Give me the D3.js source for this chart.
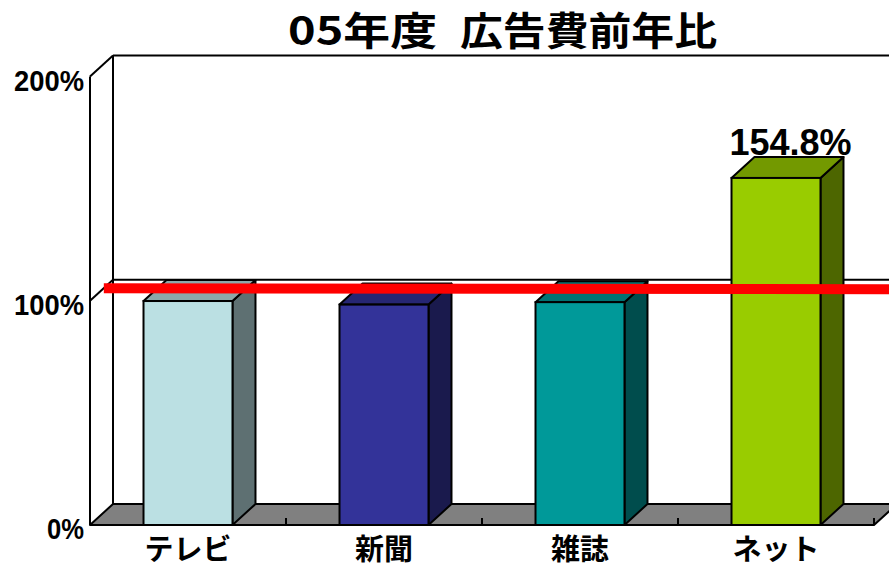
<!DOCTYPE html>
<html>
<head>
<meta charset="utf-8">
<script src="https://cdn.jsdelivr.net/npm/d3@7"></script>
<style>
  body { margin: 0; background: #fff; }
  svg { display: block; }
</style>
</head>
<body>
<div id="chart"></div>
<script>
var categories = ["テレビ", "新聞", "雑誌", "ネット"];
var values = [99.9, 98.3, 99.4, 154.8];
var frontColors = ["#bbe0e3", "#333399", "#009999", "#99cc00"];
var yTicks = [0, 100, 200];
var refValue = 100;
var labelValue = "154.8%";
var titleParts = ["05年度", "広告費前年比"];

var width = 889, height = 567;
var depthX = 23, depthY = -21;

var svg = d3
  .select("#chart")
  .append("svg")
  .attr("width", width)
  .attr("height", height);

var x = d3
  .scaleBand()
  .domain(categories)
  .range([90, 874])
  .paddingInner(0.546)
  .paddingOuter(0.273);

var y = d3.scaleLinear([0, 200], [525, 76.6]);

function shade(c, k) {
  var col = d3.rgb(c);
  return d3.rgb(col.r * k, col.g * k, col.b * k).formatHex();
}

// back wall lines
svg
  .append("line")
  .attr("x1", 90 + depthX)
  .attr("y1", y(200) + depthY)
  .attr("x2", 90 + depthX)
  .attr("y2", y(0) + depthY)
  .style("stroke", "#000")
  .style("stroke-width", 2);

svg
  .append("g")
  .selectAll("line")
  .data(yTicks.filter((d) => d > 0))
  .join("line")
  .attr("x1", 90 + depthX)
  .attr("x2", 874 + depthX + 10)
  .attr("y1", (d) => y(d) + depthY)
  .attr("y2", (d) => y(d) + depthY)
  .style("stroke", "#000")
  .style("stroke-width", 2);

// left wall
svg
  .append("line")
  .attr("x1", 90)
  .attr("y1", y(200))
  .attr("x2", 90)
  .attr("y2", y(0))
  .style("stroke", "#000")
  .style("stroke-width", 2);

svg
  .append("g")
  .selectAll("line")
  .data(yTicks.filter((d) => d > 0))
  .join("line")
  .attr("x1", 90)
  .attr("x2", 90 + depthX)
  .attr("y1", (d) => y(d))
  .attr("y2", (d) => y(d) + depthY)
  .style("stroke", "#000")
  .style("stroke-width", 2);

// floor
var fx0 = x.range()[0], fx1 = x.range()[1];
svg
  .append("polygon")
  .attr(
    "points",
    [
      [fx0, y(0)],
      [fx0 + depthX, y(0) + depthY],
      [fx1 + depthX, y(0) + depthY],
      [fx1, y(0)],
    ].join(" ")
  )
  .style("fill", "#808080")
  .style("stroke", "#000")
  .style("stroke-width", 2)
  .style("stroke-linejoin", "round");

// category boundary ticks on floor
svg
  .append("g")
  .selectAll("line")
  .data(categories)
  .join("line")
  .attr("x1", (d) => x(d) + x.bandwidth() / 2 + x.step() / 2)
  .attr("x2", (d) => x(d) + x.bandwidth() / 2 + x.step() / 2)
  .attr("y1", y(0))
  .attr("y2", y(0) - 7)
  .style("stroke", "#000")
  .style("stroke-width", 2);

// bars
var bars = svg
  .append("g")
  .selectAll("g")
  .data(categories)
  .join("g");

bars
  .append("polygon")
  .attr("points", function (d, i) {
    var x0 = x(d) + x.bandwidth(), yv = y(values[i]), y0 = y(0);
    return [
      [x0, yv],
      [x0 + depthX, yv + depthY],
      [x0 + depthX, y0 + depthY],
      [x0, y0],
    ].join(" ");
  })
  .style("fill", (d, i) => shade(frontColors[i], 0.5))
  .style("stroke", "#000")
  .style("stroke-width", 2)
  .style("stroke-linejoin", "round");

bars
  .append("polygon")
  .attr("points", function (d, i) {
    var x0 = x(d), x1 = x(d) + x.bandwidth(), yv = y(values[i]);
    return [
      [x0, yv],
      [x0 + depthX, yv + depthY],
      [x1 + depthX, yv + depthY],
      [x1, yv],
    ].join(" ");
  })
  .style("fill", (d, i) => shade(frontColors[i], 0.75))
  .style("stroke", "#000")
  .style("stroke-width", 2)
  .style("stroke-linejoin", "round");

bars
  .append("rect")
  .attr("x", (d) => x(d))
  .attr("y", (d, i) => y(values[i]))
  .attr("width", x.bandwidth())
  .attr("height", (d, i) => y(0) - y(values[i]))
  .style("fill", (d, i) => frontColors[i])
  .style("stroke", "#000")
  .style("stroke-width", 2);

// red 100% line, drawn part way into the depth
var refDepth = 0.6;
svg
  .append("line")
  .attr("x1", 90 + depthX * refDepth)
  .attr("x2", width)
  .attr("y1", y(refValue) + depthY * refDepth)
  .attr("y2", y(refValue) + depthY * refDepth + 1)
  .style("stroke", "#ff0000")
  .style("stroke-width", 10);

// value label on the net bar
var last = categories.length - 1;
svg
  .append("text")
  .attr("x", x(categories[last]) + x.bandwidth() / 2 + depthX / 2 + 3)
  .attr("y", y(values[last]) + depthY - 2)
  .attr("text-anchor", "middle")
  .style("font-family", "'Liberation Sans', Arial, sans-serif")
  .style("font-weight", "bold")
  .style("font-size", "36px")
  .text(labelValue);

// y labels
var yLabelWidths = { 0: 37, 100: 70, 200: 70 };
svg
  .append("g")
  .selectAll("text")
  .data(yTicks)
  .join("text")
  .attr("x", 84)
  .attr("y", (d) => y(d) + 14)
  .attr("text-anchor", "end")
  .attr("textLength", (d) => yLabelWidths[d])
  .attr("lengthAdjust", "spacingAndGlyphs")
  .style("font-family", "'Liberation Sans', Arial, sans-serif")
  .style("font-weight", "bold")
  .style("font-size", "30px")
  .text((d) => d + "%");

// category labels
svg
  .append("g")
  .selectAll("text")
  .data(categories)
  .join("text")
  .attr("x", (d) => x(d) + x.bandwidth() / 2)
  .attr("y", 560)
  .attr("text-anchor", "middle")
  .style("font-family", "'Noto Sans CJK JP', sans-serif")
  .style("font-weight", "bold")
  .style("font-size", "29px")
  .text((d) => d);

// title, two parts with a wide gap
var titleX = [288, 460], titleLen = [149, 257];
svg
  .append("g")
  .selectAll("text")
  .data(titleParts)
  .join("text")
  .attr("x", (d, i) => titleX[i])
  .attr("y", 45)
  .attr("textLength", (d, i) => titleLen[i])
  .attr("lengthAdjust", "spacingAndGlyphs")
  .style("font-family", "'Noto Sans CJK JP', sans-serif")
  .style("font-weight", "bold")
  .style("font-size", "39px")
  .text((d) => d);
</script>
</body>
</html>
